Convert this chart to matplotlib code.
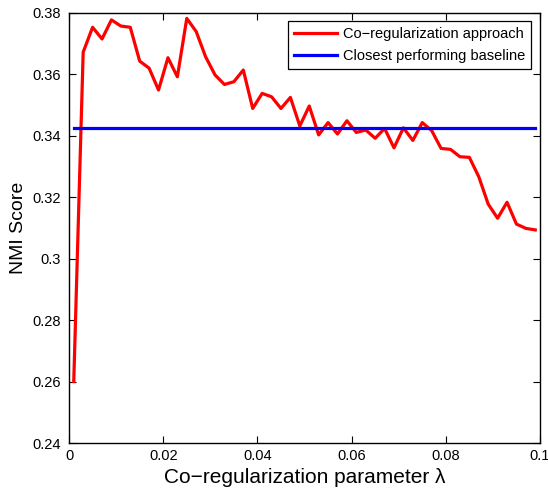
import matplotlib
matplotlib.use("Agg")
import matplotlib.pyplot as plt
import numpy as np

plt.rcParams['font.family'] = ['Liberation Sans', 'DejaVu Sans']

# lambda values and NMI scores
lam = np.arange(0.001, 0.1, 0.002)
nmi = [0.2600, 0.3671, 0.3752, 0.3714, 0.3776, 0.3756, 0.3752, 0.3642, 0.3619, 0.3548,
       0.3653, 0.3591, 0.3781, 0.3738, 0.3656, 0.3597, 0.3566, 0.3575, 0.3613, 0.3488,
       0.3537, 0.3526, 0.3488, 0.3524, 0.3431, 0.3496, 0.3402, 0.3442, 0.3405, 0.3448,
       0.3410, 0.3418, 0.3391, 0.3423, 0.3360, 0.3425, 0.3384, 0.3442, 0.3416, 0.3358,
       0.3355, 0.3331, 0.3329, 0.3266, 0.3177, 0.3131, 0.3183, 0.3112, 0.3098, 0.3093]
baseline = 0.3425

fig = plt.figure(figsize=(5.48, 4.95), dpi=100)
ax = fig.add_axes([0.126, 0.105, 0.8594, 0.8697])

ax.plot(lam, nmi, color='red', lw=2.3, label='Co\u2212regularization approach')
ax.plot([lam[0], lam[-1]], [baseline, baseline], color='blue', lw=2.3,
        label='Closest performing baseline')

ax.set_xlim(0, 0.1)
ax.set_ylim(0.24, 0.38)
ax.set_xticks([0, 0.02, 0.04, 0.06, 0.08, 0.1])
ax.set_xticklabels(['0', '0.02', '0.04', '0.06', '0.08', '0.1'])
ax.set_yticks([0.24, 0.26, 0.28, 0.3, 0.32, 0.34, 0.36, 0.38])
ax.set_yticklabels(['0.24', '0.26', '0.28', '0.3', '0.32', '0.34', '0.36', '0.38'])
ax.tick_params(direction='in', top=True, right=True, labelsize=10.5, length=5, width=0.8)
ax.tick_params(axis='y', pad=6)
ax.tick_params(axis='x', pad=4)
for s in ax.spines.values():
    s.set_linewidth(1.0)

ax.set_xlabel('Co\u2212regularization parameter \u03bb', fontsize=15, labelpad=4)
ax.set_ylabel('NMI Score', fontsize=14, labelpad=4)

leg = ax.legend(loc='upper right', fontsize=10.5, fancybox=False, edgecolor='black',
                framealpha=1, handlelength=3.0, borderpad=0.4, labelspacing=0.55,
                handletextpad=0.4, borderaxespad=0.6)
leg.get_frame().set_linewidth(0.9)

fig.savefig('out.png', dpi=100)
